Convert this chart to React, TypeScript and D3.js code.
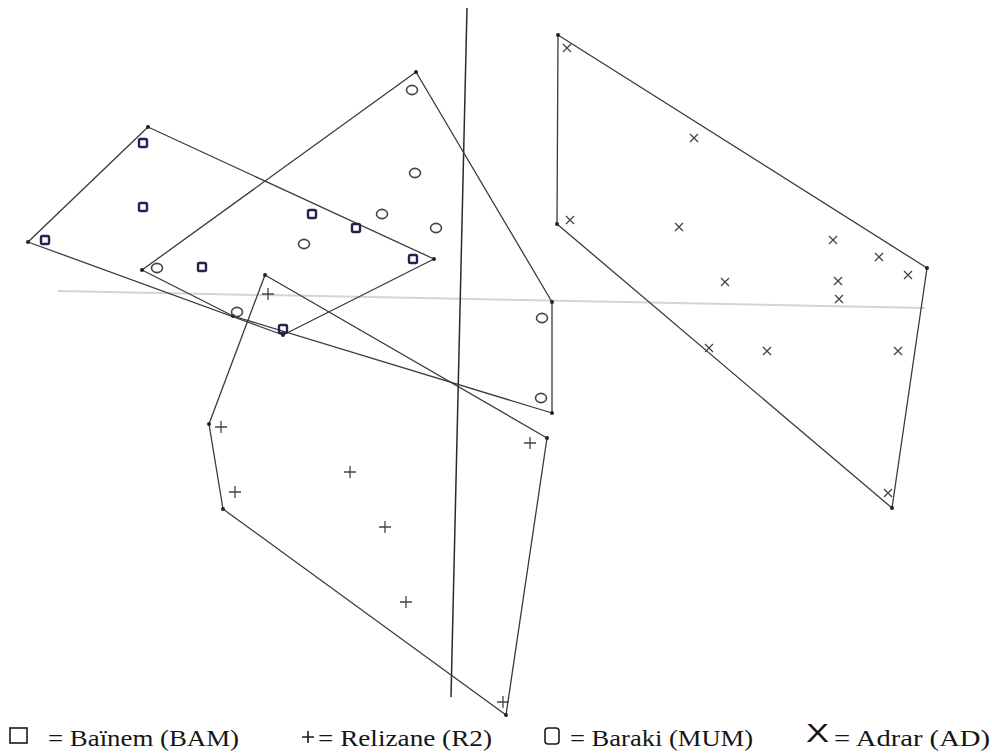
import React from "react";
import * as d3 from "d3";

// Factor scores (axis 1, axis 2) of the individuals of each population
const bainemPoints: [number, number][] = [
  [-3.17, 1.55], [-3.17, 0.91], [-4.15, 0.58], [-1.48, 0.84],
  [-1.04, 0.7], [-2.58, 0.31], [-0.47, 0.39], [-1.77, -0.31],
];
const bainemHull: [number, number][] = [
  [-3.12, 1.71], [-0.26, 0.39], [-1.77, -0.37], [-4.32, 0.56],
];

const barakiPoints: [number, number][] = [
  [-0.48, 2.08], [-0.45, 1.25], [-0.78, 0.84], [-0.24, 0.7], [-1.56, 0.54],
  [-3.03, 0.3], [-2.23, -0.14], [0.82, -0.2], [0.81, -1.0],
];
const barakiHull: [number, number][] = [
  [-0.44, 2.26], [0.92, -0.04], [0.92, -1.15], [-2.27, -0.18], [-3.18, 0.28],
];

const relizanePoints: [number, number][] = [
  [-1.92, 0.04], [-2.39, -1.29], [-2.25, -1.94], [-1.1, -1.74],
  [-0.75, -2.29], [-0.54, -3.04], [0.7, -1.45], [0.43, -4.04],
];
const relizaneHull: [number, number][] = [
  [-1.95, 0.23], [0.87, -1.4], [0.46, -4.17], [-2.37, -2.11], [-2.51, -1.26],
];

const adrarPoints: [number, number][] = [
  [1.07, 2.5], [2.34, 1.6], [1.1, 0.78], [2.19, 0.71], [3.73, 0.58],
  [4.19, 0.41], [4.48, 0.23], [2.65, 0.16], [3.78, 0.17], [3.79, -0.01],
  [2.49, -0.5], [3.07, -0.53], [4.38, -0.53], [4.28, -1.95],
];
const adrarHull: [number, number][] = [
  [0.98, 2.63], [4.67, 0.3], [4.32, -2.1], [0.97, 0.74],
];

// Axis lines of the factorial plane
const axis1: [number, number][] = [[-4.02, 0.07], [4.65, -0.1]];
const axis2: [number, number][] = [[0.07, 2.9], [-0.09, -3.99]];

const legendLabels = ["= Baïnem (BAM)", "= Relizane (R2)", "= Baraki (MUM)", "= Adrar (AD)"];

const W = 992;
const H = 754;

export default function App() {
  const x = d3.scaleLinear().domain([-4.6, 5.32]).range([0, W]);
  const y = d3.scaleLinear().domain([2.98, -4.56]).range([0, H]);
  const line = d3
    .line<[number, number]>()
    .x((d) => x(d[0]))
    .y((d) => y(d[1]));
  const hullPath = (pts: [number, number][]) => line(pts) + "Z";

  const hulls = [bainemHull, barakiHull, relizaneHull, adrarHull];
  const ink = "#3a3a3a";

  return (
    <div style={{ position: "absolute", left: 0, top: 0 }}>
      <svg width={W} height={H} style={{ display: "block", background: "#fff" }}>
        {/* axes */}
        <path d={line(axis1) ?? ""} stroke="#d4d4d4" strokeWidth={2} fill="none" />
        <path d={line(axis2) ?? ""} stroke="#2a2a2a" strokeWidth={1.5} fill="none" />

        {/* convex envelopes */}
        {hulls.map((h, i) => (
          <g key={i}>
            <path d={hullPath(h)} fill="none" stroke={ink} strokeWidth={1.3} strokeLinejoin="round" />
            {h.map((p, j) => (
              <circle key={j} cx={x(p[0])} cy={y(p[1])} r={2} fill="#222" />
            ))}
          </g>
        ))}

        {/* Baïnem: squares */}
        {bainemPoints.map((p, i) => (
          <rect
            key={i}
            x={x(p[0]) - 4}
            y={y(p[1]) - 4}
            width={8}
            height={8}
            rx={1.5}
            fill="none"
            stroke="#23234f"
            strokeWidth={2.4}
          />
        ))}

        {/* Baraki: circles */}
        {barakiPoints.map((p, i) => (
          <ellipse
            key={i}
            cx={x(p[0])}
            cy={y(p[1])}
            rx={5.5}
            ry={4.6}
            fill="none"
            stroke="#444"
            strokeWidth={1.6}
          />
        ))}

        {/* Relizane: plus signs */}
        {relizanePoints.map((p, i) => {
          const cx = x(p[0]);
          const cy = y(p[1]);
          return (
            <path
              key={i}
              d={`M${cx - 6},${cy}H${cx + 6}M${cx},${cy - 6}V${cy + 6}`}
              stroke="#444"
              strokeWidth={1.3}
            />
          );
        })}

        {/* Adrar: crosses */}
        {adrarPoints.map((p, i) => {
          const cx = x(p[0]);
          const cy = y(p[1]);
          return (
            <path
              key={i}
              d={`M${cx - 4},${cy - 4}L${cx + 4},${cy + 4}M${cx + 4},${cy - 4}L${cx - 4},${cy + 4}`}
              stroke="#444"
              strokeWidth={1.3}
            />
          );
        })}

        {/* legend */}
        <g fontFamily="'Liberation Serif', 'DejaVu Serif', serif" fontSize={24} fill="#151515">
          <rect x={10} y={728} width={17} height={15} fill="none" stroke="#1a1a1a" strokeWidth={1.6} />
          <text x={48} y={746} textLength={191} lengthAdjust="spacingAndGlyphs">{legendLabels[0]}</text>

          <path d="M302,737H314M308,731V743" stroke="#1a1a1a" strokeWidth={1.6} />
          <text x={318} y={746} textLength={174} lengthAdjust="spacingAndGlyphs">{legendLabels[1]}</text>

          <rect x={545} y={728} width={14} height={16} rx={3} fill="none" stroke="#1a1a1a" strokeWidth={1.6} />
          <text x={570} y={746} textLength={183} lengthAdjust="spacingAndGlyphs">{legendLabels[2]}</text>

          <text x={806} y={742} fontFamily="'Liberation Sans', Arial, sans-serif" fontSize={26} textLength={23} lengthAdjust="spacingAndGlyphs">X</text>
          <text x={834} y={746} textLength={156} lengthAdjust="spacingAndGlyphs">{legendLabels[3]}</text>
        </g>
      </svg>
    </div>
  );
}
